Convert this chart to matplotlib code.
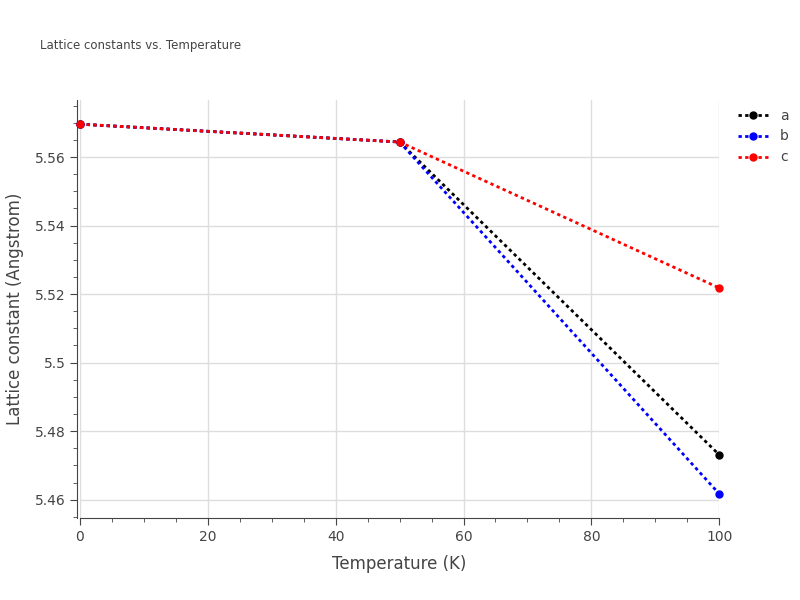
import matplotlib.pyplot as plt
from matplotlib.ticker import MultipleLocator, FuncFormatter

temps = [0, 50, 100]
a_vals = [5.5696, 5.5644, 5.4731]
b_vals = [5.5696, 5.5644, 5.4617]
c_vals = [5.5696, 5.5644, 5.5218]
series = [("a", a_vals, "black"), ("b", b_vals, "blue"), ("c", c_vals, "red")]

txt = "#444444"
fig = plt.figure(figsize=(8, 6), dpi=100)
ax = fig.add_axes([0.1, 0.137, 0.799, 0.696])

for name, vals, col in series:
    ax.plot(temps, vals, linestyle=(0, (1.2, 1.2)), color=col, linewidth=2,
            marker="o", markersize=5, label=name, clip_on=False, zorder=3)

ax.set_xlim(0, 100)
ax.set_ylim(5.4547, 5.5766)
ax.xaxis.set_major_locator(MultipleLocator(20))
ax.xaxis.set_minor_locator(MultipleLocator(5))
ax.yaxis.set_major_locator(MultipleLocator(0.02))
ax.yaxis.set_minor_locator(MultipleLocator(0.005))
ax.yaxis.set_major_formatter(FuncFormatter(lambda v, p: f"{v:.3f}".rstrip("0").rstrip(".")))
ax.grid(True, which="major", color="#dddddd", linewidth=1)
for s in ["top", "right"]:
    ax.spines[s].set_visible(False)
for s in ["left", "bottom"]:
    ax.spines[s].set_color(txt)
ax.spines["left"].set_position(("outward", 2))
ax.tick_params(which="both", colors=txt, labelsize=10)
ax.tick_params(which="major", length=5)
ax.tick_params(which="minor", length=3)
ax.set_xlabel("Temperature (K)", color=txt, fontsize=12, labelpad=8)
ax.set_ylabel("Lattice constant (Angstrom)", color=txt, fontsize=12, labelpad=8)
fig.text(0.05, 0.918, "Lattice constants vs. Temperature", color=txt, fontsize=8.5)
leg = ax.legend(loc="upper left", bbox_to_anchor=(1.01, 1.01), frameon=False,
                fontsize=10, handlelength=2.2)
for t in leg.get_texts():
    t.set_color(txt)

fig.savefig("out.png", dpi=100)
